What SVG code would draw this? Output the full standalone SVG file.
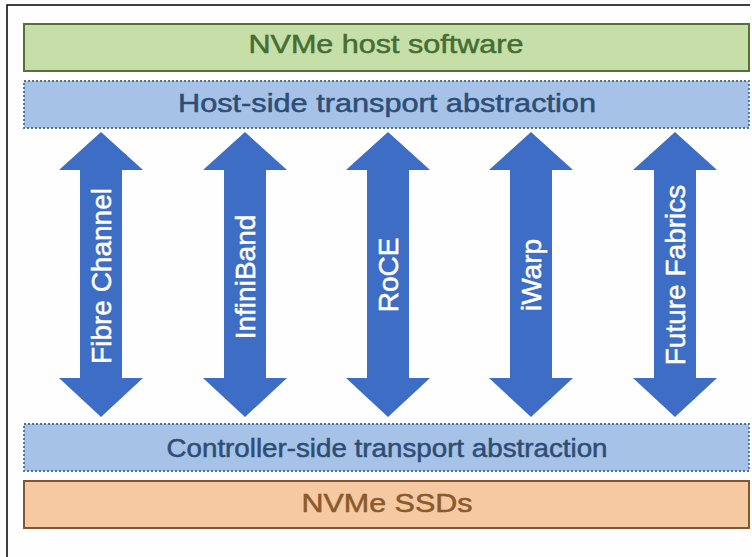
<svg xmlns="http://www.w3.org/2000/svg" width="752" height="557" viewBox="0 0 752 557">
<defs>
<style>
.t{font-family:"Liberation Sans",Arial,Helvetica,sans-serif;font-size:25px;text-anchor:middle;stroke-width:0.5}
.v{font-family:"Liberation Sans",Arial,Helvetica,sans-serif;font-size:28px;text-anchor:middle;fill:#ffffff;stroke:#ffffff;stroke-width:0.5}
.blue{fill:#a6c3e7;stroke:#4f6f9c;stroke-width:1.8;stroke-dasharray:2 2}
.arrow{fill:#3d6dc5}
</style>
<path id="dbl" d="M0,-143 L42,-105 L21,-105 L21,103 L42,103 L0,142 L-42,103 L-21,103 L-21,-105 L-42,-105 Z"/>
</defs>
<rect x="0" y="0" width="752" height="557" fill="#fefefe"/>
<path d="M7,557 L7,5 L750,5" fill="none" stroke="#000" stroke-width="1.5"/>
<g id="host-software">
<rect x="24" y="24" width="725" height="47" fill="#c6dfa9" stroke="#56703c" stroke-width="2"/>
<text class="t" x="386" y="53" fill="#466d33" stroke="#466d33" textLength="275" lengthAdjust="spacingAndGlyphs">NVMe host software</text>
</g>
<g id="host-transport">
<rect class="blue" x="24" y="81" width="725" height="47"/>
<text class="t" x="387" y="112" fill="#2e4d75" stroke="#2e4d75" textLength="418" lengthAdjust="spacingAndGlyphs">Host-side transport abstraction</text>
</g>
<g id="controller-transport">
<rect class="blue" x="24" y="424" width="725" height="47"/>
<text class="t" x="387" y="457" fill="#2e4d75" stroke="#2e4d75" textLength="441" lengthAdjust="spacingAndGlyphs">Controller-side transport abstraction</text>
</g>
<g id="ssds">
<rect x="24" y="481" width="725" height="47" fill="#f6c9a3" stroke="#845630" stroke-width="2"/>
<text class="t" x="387" y="512" fill="#8a5a2c" stroke="#8a5a2c" textLength="171" lengthAdjust="spacingAndGlyphs">NVMe SSDs</text>
</g>
<g id="connectors">
<g id="fibre-channel">
<use href="#dbl" class="arrow" transform="translate(101,275)"/>
<text class="v" transform="translate(111,276) rotate(-90)">Fibre Channel</text>
</g>
<g id="infiniband">
<use href="#dbl" class="arrow" transform="translate(245,275)"/>
<text class="v" transform="translate(255,277) rotate(-90)">InfiniBand</text>
</g>
<g id="roce">
<use href="#dbl" class="arrow" transform="translate(388,275)"/>
<text class="v" transform="translate(398,275) rotate(-90)">RoCE</text>
</g>
<g id="iwarp">
<use href="#dbl" class="arrow" transform="translate(531,275)"/>
<text class="v" transform="translate(541,275) rotate(-90)">iWarp</text>
</g>
<g id="future-fabrics">
<use href="#dbl" class="arrow" transform="translate(675,275)"/>
<text class="v" transform="translate(685,275) rotate(-90)">Future Fabrics</text>
</g>
</g>
</svg>
